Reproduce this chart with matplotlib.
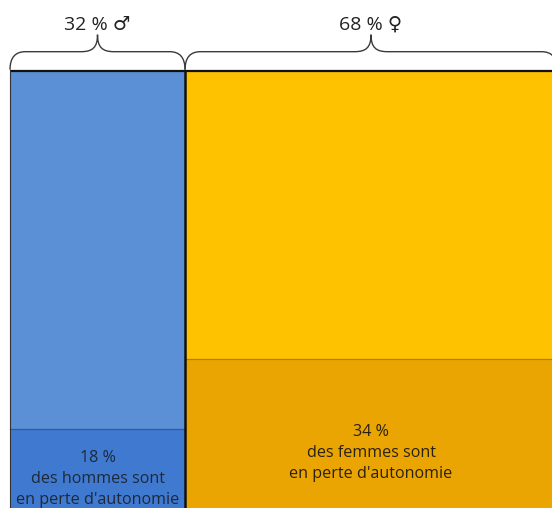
import numpy as np
import matplotlib
matplotlib.use("Agg")
import matplotlib.pyplot as plt
from matplotlib.path import Path
from matplotlib.patches import PathPatch

plt.rcParams['font.family'] = ['Open Sans', 'DejaVu Sans']

# data
groups = ['hommes', 'femmes']
symbols = ['♂', '♀']
shares = [32, 68]          # part de la population (%)
dependent = [18, 34]       # part en perte d'autonomie (%)
light_colors = ['#5b8fd6', '#fec200']
dark_colors = ['#3f79d0', '#eba502']
line_colors = ['#2f5a99', '#b07c0a']

fig = plt.figure(figsize=(5.52, 5.08), dpi=100)
ax = fig.add_axes([0, 0, 1, 1])
ax.set_xlim(-10 / 5.47, 542 / 5.47)
ax.set_ylim(0, 508 / 4.37)
ax.axis('off')

lefts = np.concatenate([[0], np.cumsum(shares)[:-1]])

ax.bar(lefts, [100] * len(shares), width=shares, align='edge',
       color=light_colors, linewidth=0)
ax.bar(lefts, dependent, width=shares, align='edge',
       color=dark_colors, linewidth=0)

for l, w, d, lc in zip(lefts, shares, dependent, line_colors):
    ax.plot([l, l + w], [d, d], color=lc, lw=0.9)

# contours
ax.plot([0, 100], [100, 100], color='#111111', lw=1.6, solid_capstyle='butt')
ax.plot([shares[0], shares[0]], [0, 100], color='#111111', lw=1.8)
ax.plot([0, 0], [0, 100], color='#333333', lw=0.8)


def brace(x0, x1, y0):
    # accolade au-dessus d'un segment
    xm = (x0 + x1) / 2
    yf = y0 + 18 / 4.37
    yt = y0 + 35 / 4.37
    r = 2.8
    m = 3.0
    verts = [(x0, y0), (x0, yf), (x0 + r, yf),
             (xm - m, yf),
             (xm - m * 0.3, yf), (xm, yf + 1.0), (xm, yt),
             (xm, yf + 1.0), (xm + m * 0.3, yf), (xm + m, yf),
             (x1 - r, yf),
             (x1, yf), (x1, y0)]
    codes = [Path.MOVETO, Path.CURVE3, Path.CURVE3,
             Path.LINETO,
             Path.CURVE4, Path.CURVE4, Path.CURVE4,
             Path.CURVE4, Path.CURVE4, Path.CURVE4,
             Path.LINETO,
             Path.CURVE3, Path.CURVE3]
    ax.add_patch(PathPatch(Path(verts, codes), fill=False,
                           edgecolor='#3a3a3a', lw=1.0))


for l, w, s in zip(lefts, shares, symbols):
    brace(l, l + w, 100.3)
    ax.text(l + w / 2, (508 - 25) / 4.37, f'{w} % {s}', ha='center',
            va='center', fontsize=14, color='#222222')

ax.text(lefts[0] + shares[0] / 2, (508 - 479) / 4.37,
        f'{dependent[0]} %\ndes {groups[0]} sont\nen perte d\'autonomie',
        ha='center', va='center', fontsize=11.6, color='#1e2a3a',
        linespacing=1.45)
ax.text(lefts[1] + shares[1] / 2, (508 - 453) / 4.37,
        f'{dependent[1]} %\ndes {groups[1]} sont\nen perte d\'autonomie',
        ha='center', va='center', fontsize=11.6, color='#2a2210',
        linespacing=1.4)

fig.savefig('out.png', dpi=100)
